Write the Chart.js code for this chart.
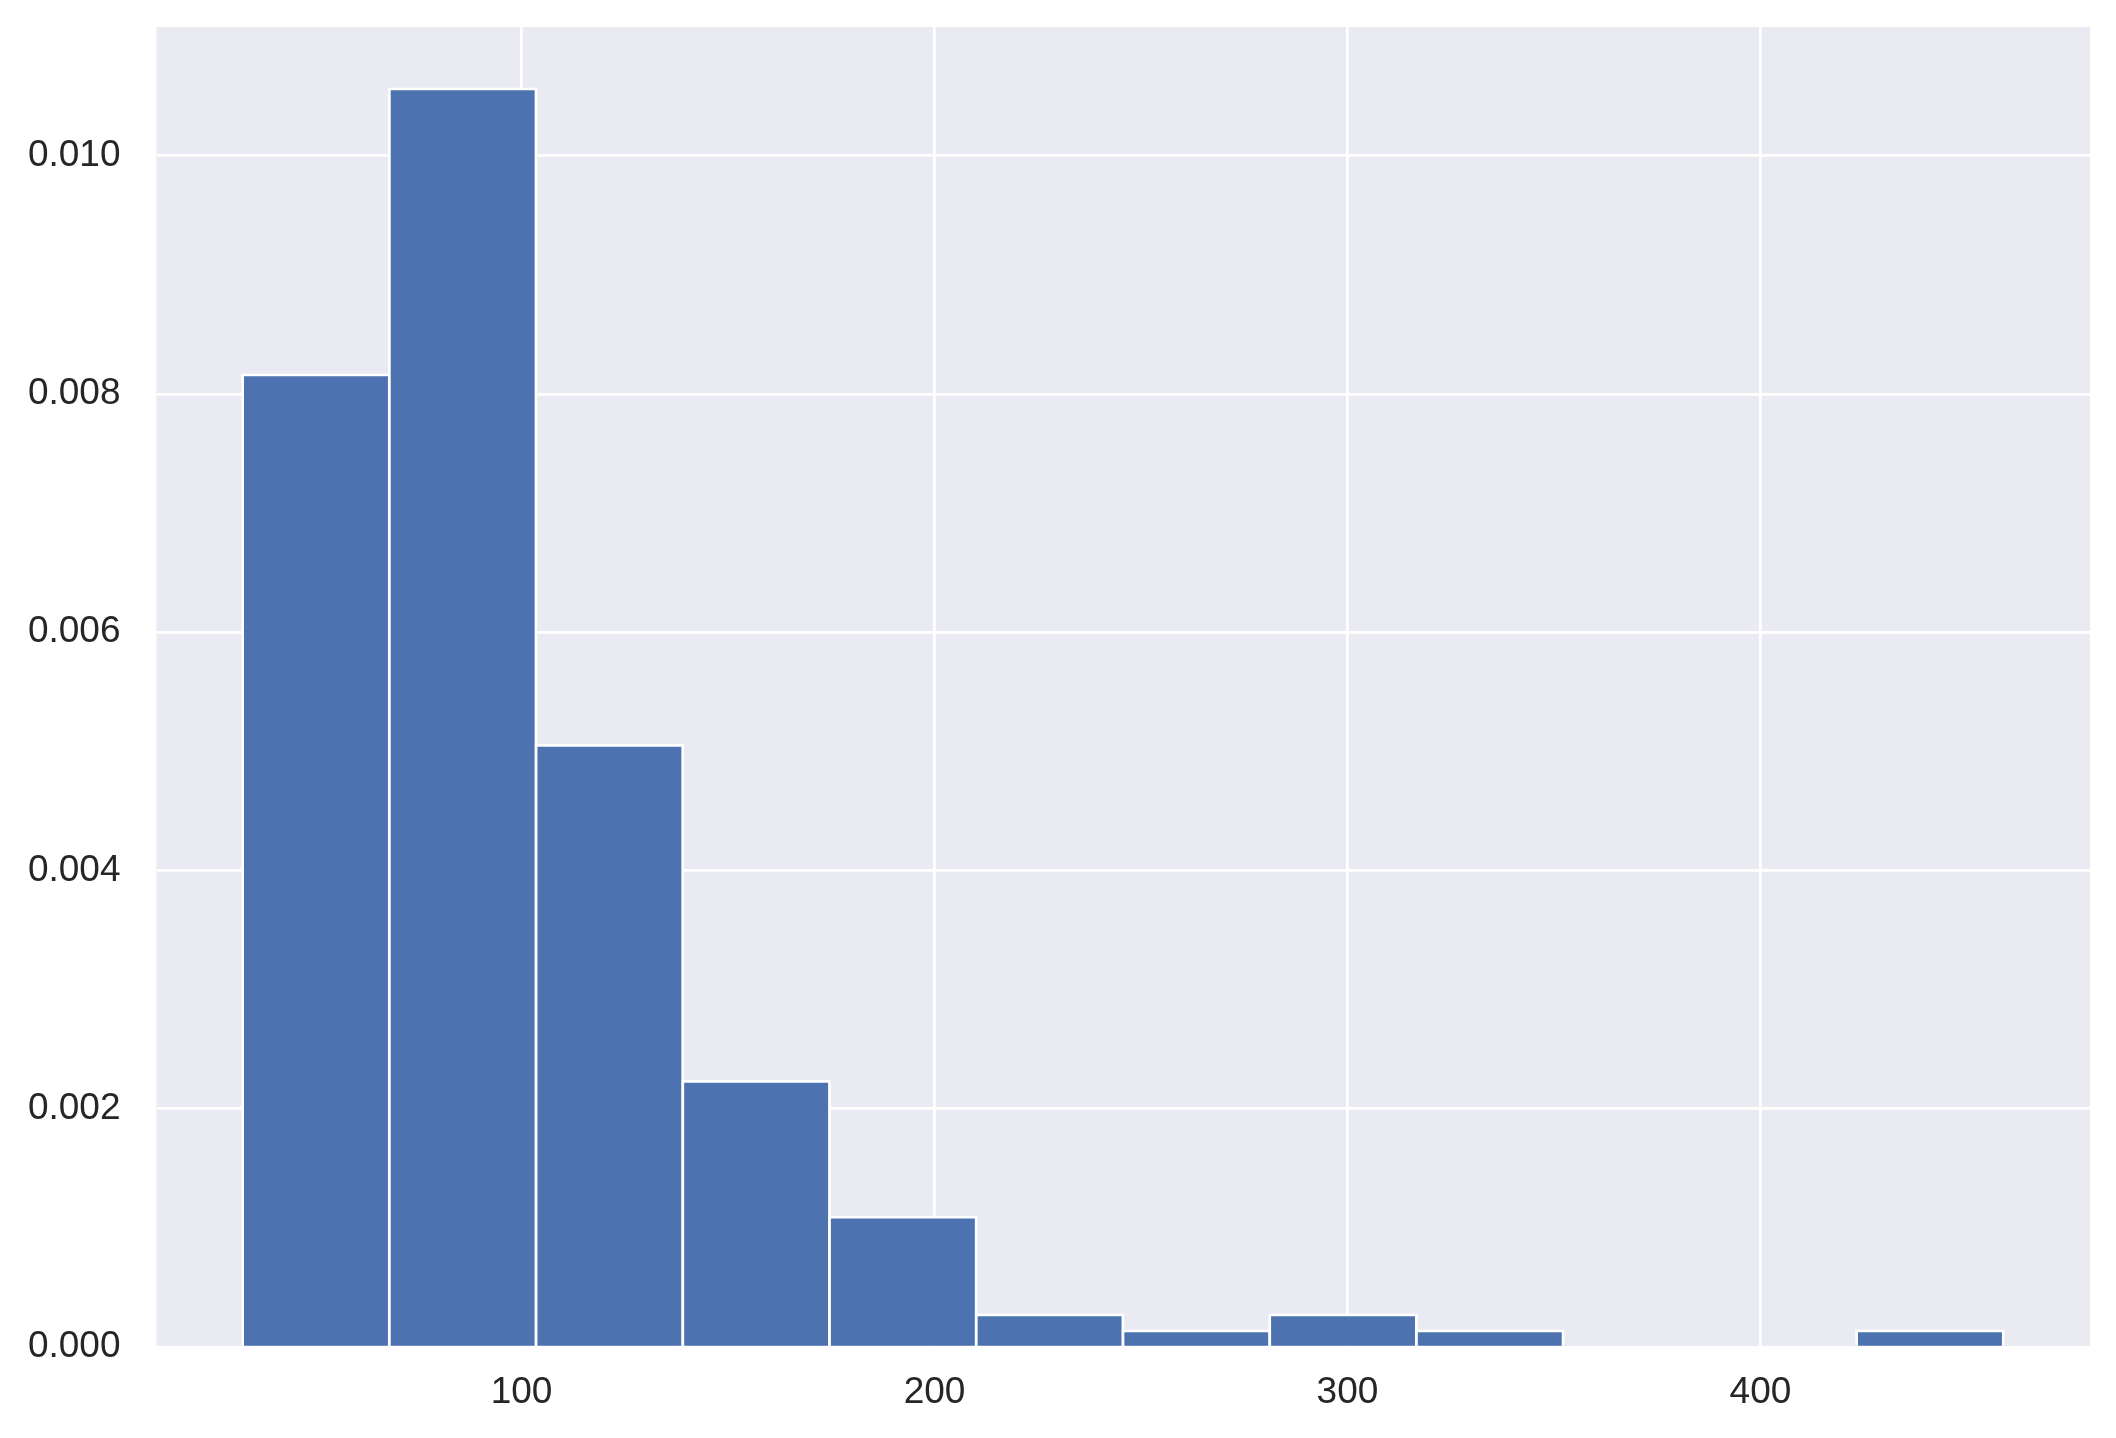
<!DOCTYPE html>
<html>
<head>
<meta charset="utf-8">
<script src="https://cdn.jsdelivr.net/npm/chart.js@4.4.1/dist/chart.umd.min.js"></script>
<style>
  html, body { margin: 0; padding: 0; background: #ffffff; }
  #wrap { width: 2116px; height: 1438px; position: relative; }
</style>
</head>
<body>
<div id="wrap"><canvas id="c" width="2116" height="1438"></canvas></div>
<script>
// Histogram bin edges (data units)
const binEdges = [32.45, 67.98, 103.51, 139.04, 174.57, 210.10, 245.63, 281.16, 316.69, 352.22, 387.75, 423.28, 458.81];
// Density value of each bin
const densities = [0.00816, 0.01056, 0.00505, 0.00223, 0.00109, 0.00027, 0.000135, 0.00027, 0.000135, 0, 0, 0.000135];
// Tick labels
const xTickValues = [100, 200, 300, 400];
const yTickValues = [0, 0.002, 0.004, 0.006, 0.008, 0.010];
const xRange = [11.6, 479.8];
const yRange = [0, 0.01108];

const binCenters = densities.map((_, i) => (binEdges[i] + binEdges[i + 1]) / 2);
const points = densities.map((d, i) => ({ x: binCenters[i], y: d }));

const bgPlugin = {
  id: 'plotBg',
  beforeDraw(chart) {
    const { ctx, chartArea: a } = chart;
    ctx.save();
    ctx.fillStyle = '#EAEAF2';
    ctx.fillRect(a.left, a.top, a.right - a.left, a.bottom - a.top);
    ctx.restore();
  }
};

Chart.defaults.font.family = '"Liberation Sans", Arial, sans-serif';
Chart.defaults.font.size = 37;
Chart.defaults.color = '#262626';

new Chart(document.getElementById('c'), {
  type: 'bar',
  data: {
    datasets: [{
      data: points,
      backgroundColor: '#4C72B0',
      borderColor: '#ffffff',
      borderWidth: 2.8,
      inflateAmount: 1.4,
      borderSkipped: 'start',
      barPercentage: 1.0,
      categoryPercentage: 1.0
    }]
  },
  options: {
    responsive: false,
    animation: false,
    devicePixelRatio: 1,
    layout: { padding: { left: 0, right: 26, top: 27, bottom: 0 } },
    plugins: { legend: { display: false }, tooltip: { enabled: false } },
    scales: {
      x: {
        type: 'linear',
        min: xRange[0],
        max: xRange[1],
        offset: false,
        afterBuildTicks(scale) { scale.ticks = xTickValues.map(v => ({ value: v })); },
        afterFit(scale) { scale.height = 91; scale.paddingLeft = 0; scale.paddingRight = 0; },
        grid: { color: '#ffffff', lineWidth: 2.7, drawTicks: false, offset: false },
        border: { display: false },
        ticks: {
          padding: 24,
          maxRotation: 0,
          autoSkip: false,
          callback: v => String(v)
        }
      },
      y: {
        type: 'linear',
        min: yRange[0],
        max: yRange[1],
        afterBuildTicks(scale) { scale.ticks = yTickValues.map(v => ({ value: v })); },
        afterFit(scale) { scale.width = 156.5; scale.paddingTop = 0; scale.paddingBottom = 0; },
        grid: { color: '#ffffff', lineWidth: 2.7, drawTicks: false },
        border: { display: false },
        ticks: {
          padding: 36,
          autoSkip: false,
          callback: v => Number(v).toFixed(3)
        }
      }
    }
  },
  plugins: [bgPlugin]
});
</script>
</body>
</html>
